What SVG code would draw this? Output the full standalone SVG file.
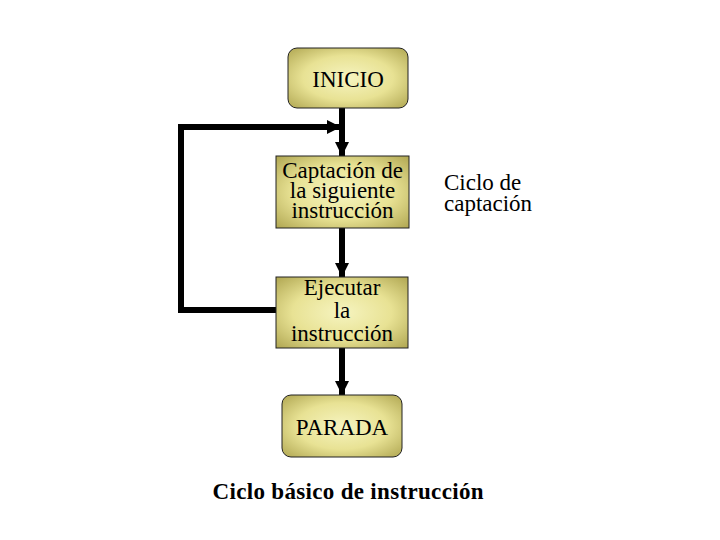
<svg xmlns="http://www.w3.org/2000/svg" width="720" height="540" viewBox="0 0 720 540">
<defs>
<radialGradient id="g" cx="0.5" cy="0.5" r="0.75">
<stop offset="0" stop-color="#f6f4c0"/>
<stop offset="0.5" stop-color="#e8e294"/>
<stop offset="1" stop-color="#a89e48"/>
</radialGradient>
<marker id="ah" markerWidth="14" markerHeight="14" viewBox="0 0 14 14" refX="14" refY="7" orient="auto" markerUnits="userSpaceOnUse">
<path d="M0,0 L14,7 L0,14 Z" fill="#000"/>
</marker>
</defs>
<style>
.box{fill:url(#g);stroke:#222;stroke-width:1}
.t{font-family:"Liberation Serif","Times New Roman",serif;font-size:23px;fill:#000;text-anchor:middle}
.c{fill:none;stroke:#000;stroke-width:6}
</style>
<rect width="720" height="540" fill="#fff"/>
<g id="connectors">
<path class="c" d="M342,108 V156" marker-end="url(#ah)"/>
<path class="c" d="M276,310 H181 V127 H341" marker-end="url(#ah)" stroke-linejoin="miter"/>
<path class="c" d="M342,228 V277" marker-end="url(#ah)"/>
<path class="c" d="M342,348 V395" marker-end="url(#ah)"/>
</g>
<g id="inicio">
<rect class="box" x="288" y="48" width="120" height="60" rx="9"/>
<text class="t" x="348" y="87">INICIO</text>
</g>
<g id="captacion">
<rect class="box" x="276" y="156" width="133" height="72"/>
<text class="t" x="342.5" y="178">Captación de</text>
<text class="t" x="342.5" y="198">la siguiente</text>
<text class="t" x="342.5" y="218">instrucción</text>
</g>
<g id="ejecutar">
<rect class="box" x="276" y="277" width="132" height="71"/>
<text class="t" x="342" y="295">Ejecutar</text>
<text class="t" x="342" y="318">la</text>
<text class="t" x="342" y="341">instrucción</text>
</g>
<g id="parada">
<rect class="box" x="282" y="395" width="120" height="62" rx="9"/>
<text class="t" x="342" y="435">PARADA</text>
</g>
<g id="labels">
<text class="t" x="444" y="190" style="text-anchor:start">Ciclo de</text>
<text class="t" x="444" y="211" style="text-anchor:start">captación</text>
<text class="t" x="348" y="499" style="font-weight:bold" textLength="271" lengthAdjust="spacing">Ciclo básico de instrucción</text>
</g>
</svg>
